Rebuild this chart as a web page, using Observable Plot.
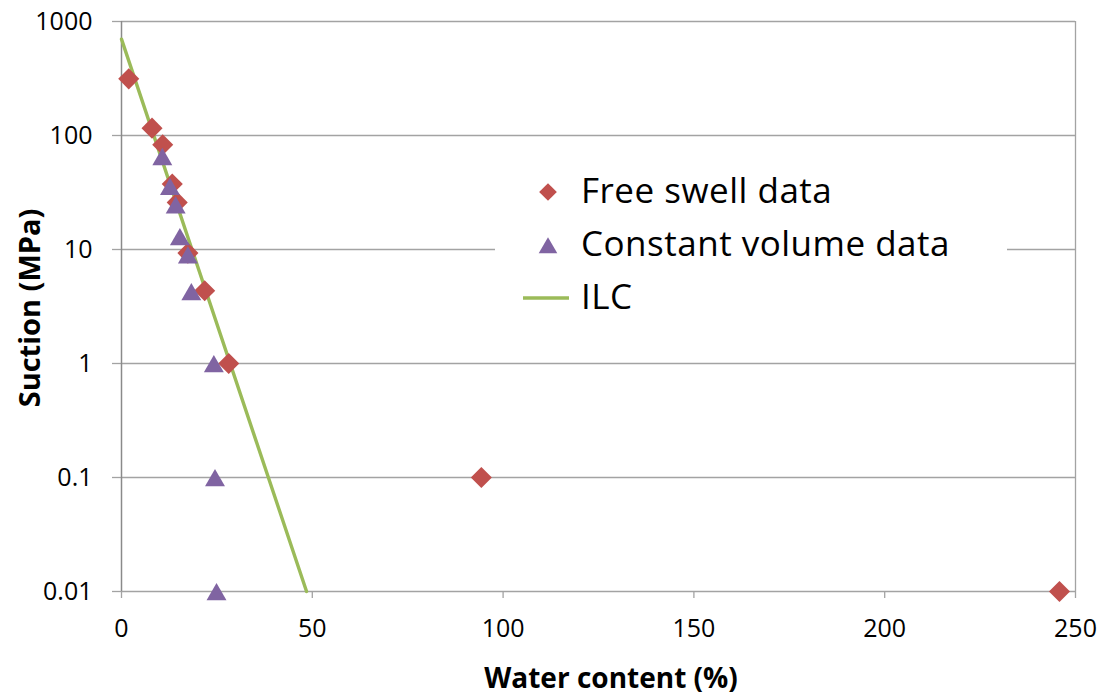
<!DOCTYPE html>
<html><head><meta charset="utf-8">
<script src="https://cdn.jsdelivr.net/npm/d3@7"></script>
<script src="https://cdn.jsdelivr.net/npm/@observablehq/plot@0.6"></script>
<style>
body{margin:0;background:#fff;}
#wrap{position:relative;width:1104px;height:695px;font-family:"Open Sans",Lato,sans-serif;color:#000;overflow:hidden;}
#wrap svg{position:absolute;left:0;top:0;}
.title{position:absolute;font-weight:bold;font-size:28px;white-space:nowrap;}
#xtitle{left:611px;top:677px;transform:translate(-50%,-50%);}
#ytitle{left:28px;top:308px;transform:translate(-50%,-50%) rotate(-90deg);font-size:29px;}
#legend{position:absolute;left:495px;top:160px;width:512px;height:172px;background:#fff;}
.row{position:absolute;left:0;height:40px;display:flex;align-items:center;}
.row svg{position:static;}
.row span{position:absolute;left:86px;font-size:35px;letter-spacing:0.5px;white-space:nowrap;line-height:40px;top:-2px;}
</style></head><body><div id="wrap"></div>
<script>
// ---- data ----
const freeSwellWater   = [1.9, 8.0, 10.8, 13.3, 14.6, 17.4, 21.8, 28.1, 94.3, 245.8];
const freeSwellSuction = [314, 116, 83, 37.6, 25.9, 9.3, 4.35, 1.0, 0.1, 0.01];
const constVolWater    = [10.7, 12.7, 14.2, 15.3, 17.4, 18.3, 24.2, 24.5, 24.9];
const constVolSuction  = [65.6, 35.8, 24.7, 13.0, 9.0, 4.29, 1.0, 0.1, 0.01];
const ilcWater   = [0, 48.5];
const ilcSuction = [700, 0.01];
const xTicks = [0, 50, 100, 150, 200, 250];
const yTicks = [0.01, 0.1, 1, 10, 100, 1000];
const yTickLabels = ["0.01", "0.1", "1", "10", "100", "1000"];
const seriesNames = ["Free swell data", "Constant volume data", "ILC"];
const xTitle = "Water content (%)";
const yTitle = "Suction (MPa)";
const red = "#C0504D", purple = "#8064A2", green = "#9BBB59";
const gridColor = "#a3a3a3", axisColor = "#8a8a8a";

const freeSwell = freeSwellWater.map((w, i) => ({w, s: freeSwellSuction[i]}));
const constVol  = constVolWater.map((w, i) => ({w, s: constVolSuction[i]}));
const ilc       = ilcWater.map((w, i) => ({w, s: ilcSuction[i]}));

const chart = Plot.plot({
  width: 1104, height: 695,
  marginLeft: 121, marginRight: 29, marginTop: 21, marginBottom: 104,
  style: {fontFamily: '"Open Sans", Lato, sans-serif', background: "transparent", color: "#000"},
  x: {domain: [0, 250]},
  y: {type: "log", domain: [0.01, 1000]},
  marks: [
    Plot.gridY(yTicks, {stroke: gridColor, strokeOpacity: 1, strokeWidth: 1.3}),
    Plot.ruleX([250], {stroke: gridColor, strokeWidth: 1.3}),
    Plot.axisY({ticks: yTicks, tickFormat: (d) => yTickLabels[yTicks.indexOf(d)], tickSize: 9, tickPadding: 20,
                fontSize: 25, stroke: gridColor, strokeWidth: 1.3, label: null}),
    Plot.axisX({ticks: xTicks, tickSize: 7, tickPadding: 21, fontSize: 25, stroke: gridColor, strokeWidth: 1.3, label: null}),
    Plot.ruleX([0], {stroke: axisColor, strokeWidth: 1.5}),
    Plot.line(ilc, {x: "w", y: "s", stroke: green, strokeWidth: 3.4}),
    Plot.dot(freeSwell, {x: "w", y: "s", symbol: "diamond2", r: 9.5, fill: red, stroke: null}),
    Plot.dot(constVol, {x: "w", y: "s", symbol: "triangle", r: 7.4, fill: purple, stroke: null, dy: 3})
  ]
});

const wrap = document.getElementById("wrap");
wrap.appendChild(chart);

const xt = document.createElement("div"); xt.className = "title"; xt.id = "xtitle"; xt.textContent = xTitle; wrap.appendChild(xt);
const yt = document.createElement("div"); yt.className = "title"; yt.id = "ytitle"; yt.textContent = yTitle; wrap.appendChild(yt);

// ---- legend ----
const legend = document.createElement("div"); legend.id = "legend"; wrap.appendChild(legend);
const rowCenters = [32, 85, 138];
const glyphs = [
  `<svg width="106" height="40"><path transform="translate(53,20)" d="${d3.symbol(d3.symbolDiamond2, 200)()}" fill="${red}"/></svg>`,
  `<svg width="106" height="40"><path transform="translate(53,23)" d="${d3.symbol(d3.symbolTriangle, 150)()}" fill="${purple}"/></svg>`,
  `<svg width="106" height="40"><line x1="28" x2="74" y1="20" y2="20" stroke="${green}" stroke-width="3.4"/></svg>`
];
seriesNames.forEach((name, i) => {
  const row = document.createElement("div");
  row.className = "row";
  row.style.top = (rowCenters[i] - 20) + "px";
  row.innerHTML = glyphs[i] + `<span>${name}</span>`;
  legend.appendChild(row);
});
</script></body></html>
